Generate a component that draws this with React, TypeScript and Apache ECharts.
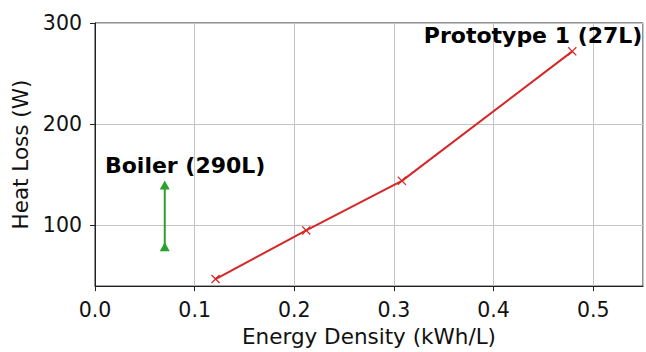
import React, { useEffect, useRef } from "react";
import * as echarts from "echarts";

// Data
const energyDensity = [0.121, 0.212, 0.308, 0.479];
const heatLoss = [47, 95, 144, 272];
const boilerDensity = [0.07, 0.07];
const boilerHeatLoss = [79, 140];
const annotationTexts = ["Boiler (290L)", "Prototype 1 (27L)"];
const annotationX = [0.01, 0.33];
const annotationY = [159, 287.5];
const xTicks = [0, 0.1, 0.2, 0.3, 0.4, 0.5];
const yTicks = [100, 200, 300];

const FONT = "DejaVu Sans";
const RED = "#d62728";
const GREEN = "#2ca02c";
const X_SYMBOL = "path://M0,1 L1,0 L5,4 L9,0 L10,1 L6,5 L10,9 L9,10 L5,6 L1,10 L0,9 L4,5 Z";

export default function App() {
  const ref = useRef<HTMLDivElement>(null);
  useEffect(() => {
    document.body.style.margin = "0";
    const chart = echarts.init(ref.current!, null, { renderer: "svg" });
    const isTick = (v: number, ticks: number[]) => ticks.some((t) => Math.abs(t - v) < 1e-6);
    chart.setOption({
      animation: false,
      backgroundColor: "#ffffff",
      grid: {
        left: 95,
        right: 3,
        top: 23,
        bottom: 65,
        show: true,
        borderColor: "#222",
        borderWidth: 1,
        backgroundColor: "transparent",
      },
      xAxis: {
        type: "value",
        min: 0,
        max: 0.55,
        interval: 0.1,
        name: "Energy Density (kWh/L)",
        nameLocation: "middle",
        nameGap: 37,
        nameTextStyle: { fontFamily: FONT, fontSize: 21.5, color: "#111" },
        axisLine: { show: true, lineStyle: { color: "#222", width: 1 } },
        axisTick: { show: true, inside: false, length: 5, lineStyle: { color: "#222" } },
        axisLabel: {
          margin: 13,
          fontFamily: FONT,
          fontSize: 20.5,
          color: "#111",
          showMaxLabel: false,
          formatter: (v: number) => (isTick(v, xTicks) ? v.toFixed(1) : ""),
        },
        splitLine: { show: true, lineStyle: { color: "#c4c4c4", width: 1 } },
      },
      yAxis: {
        type: "value",
        min: 40,
        max: 300,
        splitNumber: 3,
        name: "Heat Loss (W)",
        nameLocation: "middle",
        nameGap: 61,
        nameTextStyle: { fontFamily: FONT, fontSize: 21.5, color: "#111" },
        axisLine: { show: true, lineStyle: { color: "#222", width: 1 } },
        axisTick: { show: true, inside: false, length: 5, lineStyle: { color: "#222" } },
        axisLabel: {
          margin: 13,
          fontFamily: FONT,
          fontSize: 20.5,
          color: "#111",
          showMinLabel: false,
          formatter: (v: number) => (isTick(v, yTicks) ? String(v) : ""),
        },
        splitLine: { show: true, lineStyle: { color: "#c4c4c4", width: 1 } },
      },
      series: [
        {
          type: "line",
          data: energyDensity.map((x, i) => [x, heatLoss[i]]),
          lineStyle: { color: RED, width: 2 },
          itemStyle: { color: RED },
          symbol: X_SYMBOL,
          symbolSize: 9,
          showSymbol: true,
          z: 3,
        },
        {
          type: "line",
          data: boilerDensity.map((x, i) => [x, boilerHeatLoss[i]]),
          lineStyle: { color: GREEN, width: 2 },
          itemStyle: { color: GREEN },
          symbol: "triangle",
          symbolSize: [10, 9],
          showSymbol: true,
          z: 3,
        },
        {
          type: "custom",
          data: annotationX.map((x, i) => [x, annotationY[i], i]),
          silent: true,
          z: 4,
          renderItem: (params: any, api: any) => {
            const p = api.coord([api.value(0), api.value(1)]);
            return {
              type: "text",
              x: p[0],
              y: p[1],
              style: {
                text: annotationTexts[api.value(2)],
                fill: "#000",
                font: `bold 22px "${FONT}"`,
                align: "left",
                verticalAlign: "middle",
              },
            };
          },
        },
      ],
    });
    return () => chart.dispose();
  }, []);
  return (
    <div
      ref={ref}
      style={{ position: "absolute", left: 0, top: 0, width: 646, height: 352 }}
    />
  );
}
